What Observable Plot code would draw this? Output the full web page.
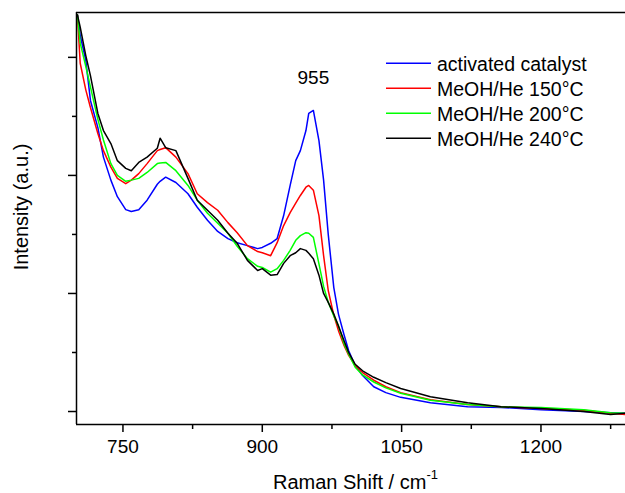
<!DOCTYPE html>
<html><head><meta charset="utf-8">
<script src="https://cdn.jsdelivr.net/npm/d3@7"></script>
<script src="https://cdn.jsdelivr.net/npm/@observablehq/plot@0.6"></script>
<style>html,body{margin:0;padding:0;background:#fff}#chart svg{display:block}</style>
</head><body><div id="chart"></div>
<script>
// Raman shift grid (cm-1)
const shift = [701,704,710,715,723,729,737,744,753,759,767,776,787,790,796,807,820,830,841,852,863,873,884,895,900,909,916,923,930,936,941,947,950,955,961,966,971,977,982,988,993,1000,1008,1020,1033,1049,1081,1121,1157,1200,1246,1275,1291];
// Intensities (a.u.)
const activated = [6.72,6.37,5.95,5.27,4.81,4.31,3.92,3.64,3.42,3.39,3.42,3.58,3.85,3.90,3.97,3.88,3.69,3.46,3.24,3.05,2.93,2.86,2.81,2.76,2.78,2.85,2.93,3.32,3.83,4.25,4.42,4.76,5.05,5.10,4.59,3.92,3.0,2.1,1.65,1.3,1.03,0.78,0.61,0.42,0.32,0.24,0.15,0.08,0.07,0.03,0.0,-0.02,-0.03];
const meoh150 = [6.72,5.9,5.45,5.15,4.71,4.42,4.14,3.95,3.86,3.92,4.03,4.20,4.42,4.44,4.47,4.31,4.03,3.69,3.54,3.41,3.20,3.03,2.81,2.71,2.69,2.64,2.86,3.15,3.37,3.53,3.66,3.80,3.83,3.75,3.32,2.64,2.05,1.63,1.37,1.12,0.95,0.78,0.66,0.53,0.42,0.32,0.20,0.12,0.08,0.05,0.02,-0.03,-0.05];
const meoh200 = [6.72,6.24,5.85,5.5,4.95,4.6,4.2,4.0,3.90,3.92,3.95,4.05,4.20,4.21,4.22,4.08,3.83,3.58,3.36,3.19,3.02,2.80,2.59,2.46,2.44,2.36,2.42,2.56,2.73,2.90,2.98,3.03,3.02,2.95,2.5,2.12,1.85,1.62,1.45,1.15,0.97,0.75,0.62,0.50,0.40,0.31,0.19,0.12,0.08,0.07,0.03,-0.02,-0.03];
const meoh240 = [6.72,6.51,6.03,5.69,5.05,4.76,4.54,4.25,4.12,4.08,4.22,4.31,4.46,4.63,4.47,4.42,3.95,3.58,3.41,3.24,3.02,2.85,2.56,2.39,2.42,2.31,2.32,2.51,2.64,2.69,2.76,2.73,2.68,2.59,2.31,2.0,1.85,1.65,1.45,1.20,1.0,0.8,0.69,0.58,0.49,0.39,0.25,0.15,0.08,0.05,0.0,-0.05,-0.03];

const seriesNames = ["activated catalyst","MeOH/He 150°C","MeOH/He 200°C","MeOH/He 240°C"];
const seriesValues = [activated, meoh150, meoh200, meoh240];
const seriesColors = ["#0000ff","#ff0000","#00ff00","#000000"];

const xMajorTicks = [750,900,1050,1200];
const xMinorTicks = [825,975,1125,1275];
const yMajorTicks = [0,2,4,6];
const yMinorTicks = [1,3,5];
const xDomain = [700,1291];
const yDomain = [-0.22,6.76];
const peakLabels = [{shift:955, y:5.66, text:"955"}];

const FONT = "'Liberation Sans', Arial, Helvetica, sans-serif";

const rows = seriesNames.flatMap((name, i) =>
  shift.map((s, j) => ({series: name, shift: s, value: seriesValues[i][j]})));

function decorations(index, scales, values, dims) {
  const g = d3.create("svg:g").attr("font-family", FONT).attr("fill", "#000");
  const L = dims.marginLeft;
  // y title
  g.append("text")
    .attr("transform", `translate(28,207) rotate(-90)`)
    .attr("text-anchor", "middle").attr("font-size", 20)
    .text("Intensity (a.u.)");
  // x title with superscript
  const t = g.append("text").attr("x", L + 197).attr("y", 489)
    .attr("text-anchor", "start").attr("font-size", 20);
  t.append("tspan").text("Raman Shift / cm");
  t.append("tspan").attr("font-size", 13).attr("dy", -10).text("-1");
  // legend
  seriesNames.forEach((name, i) => {
    const y = 63.3 + 25 * i;
    g.append("line").attr("x1", 386).attr("x2", 431).attr("y1", y).attr("y2", y)
      .attr("stroke", seriesColors[i]).attr("stroke-width", 1.5);
    g.append("text").attr("x", 437).attr("y", y).attr("dy", "0.37em")
      .attr("text-anchor", "start").attr("font-size", 19.5).text(name);
  });
  return g.node();
}

const chart = Plot.plot({
  width: 625,
  height: 493,
  marginLeft: 76,
  marginRight: 0,
  marginTop: 12,
  marginBottom: 69,
  style: {fontFamily: FONT, fontSize: "19px", background: "#fff", color: "#000"},
  x: {domain: xDomain},
  y: {domain: yDomain},
  color: {domain: seriesNames, range: seriesColors},
  marks: [
    Plot.axisX({ticks: xMajorTicks, tickSize: 8, tickPadding: 7, tickFormat: d => String(d), strokeWidth: 1.5, fontSize: 19, label: null}),
    Plot.axisX({ticks: xMinorTicks, tickSize: 5, tickFormat: () => "", strokeWidth: 1.5, label: null}),
    Plot.axisY({ticks: yMajorTicks, tickSize: 8, tickFormat: () => "", strokeWidth: 1.5, label: null}),
    Plot.axisY({ticks: yMinorTicks, tickSize: 4, tickFormat: () => "", strokeWidth: 1.5, label: null}),
    Plot.line(rows, {x: "shift", y: "value", z: "series", stroke: "series", strokeWidth: 1.5}),
    Plot.ruleX([xDomain[0]], {strokeWidth: 1.5}),
    Plot.ruleY([yDomain[0]], {strokeWidth: 1.5}),
    Plot.ruleY([yDomain[1]], {strokeWidth: 1.5}),
    Plot.text(peakLabels, {x: "shift", y: "y", text: "text", fontSize: 19, fill: "#000"}),
    decorations
  ]
});
document.getElementById("chart").appendChild(chart);
</script>
</body></html>
